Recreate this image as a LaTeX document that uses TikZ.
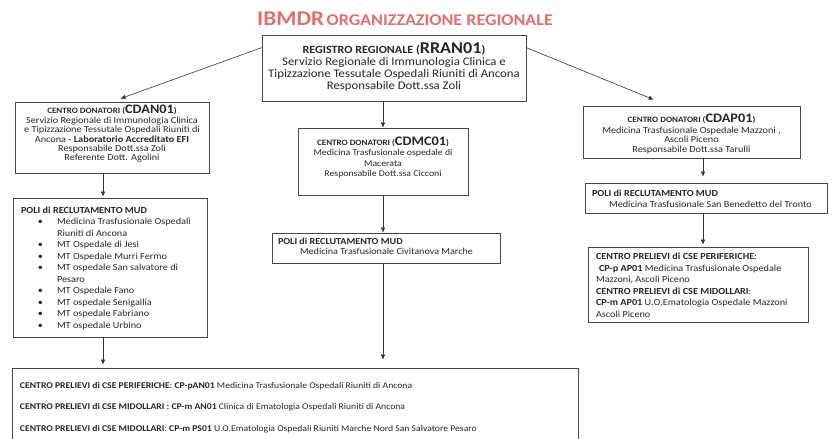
\documentclass[tikz,border=0pt]{standalone}
\usepackage{fontspec}
\setmainfont{Carlito}[FakeStretch=1.1]
\usetikzlibrary{arrows.meta}

\definecolor{titlered}{RGB}{226,110,110}
\definecolor{boxline}{RGB}{70,70,70}

\newcommand{\boxbody}[3]{\parbox[c][#2][t]{#1}{\lineskiplimit=-6pt #3}}
\newcommand{\hd}[1]{{\fontsize{8.2}{9}\selectfont\bfseries #1}}
\newcommand{\code}[1]{{\fontsize{13}{13}\selectfont\bfseries #1}}

\begin{document}
\begin{tikzpicture}[x=1pt,y=-1pt,
  orgbox/.style={draw=boxline, line width=0.7pt, inner sep=0pt, text=black!85},
  conn/.style={-{Latex[length=5pt,width=4.5pt]}, line width=0.6pt, draw=black!80}]
  \useasboundingbox (0,0) rectangle (833,439);
  \clip (0,0) rectangle (833,439);

  \coordinate (lcol) at (103,0);
  \coordinate (mcol) at (383,0);
  \coordinate (rcol) at (703,0);

  \node[text=titlered, font=\bfseries] (title) at (405,19)
    {{\fontsize{21}{21}\selectfont IBMDR} {\fontsize{16.4}{16}\selectfont ORGANIZZAZIONE REGIONALE}};

  \node[orgbox] (rran) at (394,68) {\boxbody{264pt}{66pt}{\centering\fontsize{11.6}{12.2}\selectfont\vspace*{7.5pt}%
    {\fontsize{11}{11}\selectfont\bfseries REGISTRO REGIONALE (}{\fontsize{16.5}{16}\selectfont\bfseries RRAN01}{\fontsize{11}{11}\selectfont\bfseries )}\\
    Servizio Regionale di Immunologia Clinica e\\
    Tipizzazione Tessutale Ospedali Riuniti di Ancona\\
    Responsabile Dott.ssa Zoli}};

  \node[orgbox] (cdan) at (112,137.5) {\boxbody{194pt}{71pt}{\centering\fontsize{9.3}{9.1}\selectfont\vspace*{3pt}%
    \hd{CENTRO DONATORI (}\code{CDAN01}\hd{)}\\[1.2pt]
    Servizio Regionale di Immunologia Clinica\\
    e Tipizzazione Tessutale Ospedali Riuniti di\\
    Ancona - \textbf{Laboratorio Accreditato EFI}\\
    Responsabile Dott.ssa Zoli\\
    Referente Dott. Agolini}};

  \node[orgbox] (polian) at (110,267.5) {\boxbody{194pt}{139pt}{\raggedright\leftskip=8pt\fontsize{9.3}{11.5}\selectfont\vspace*{8.5pt}%
    \textbf{POLI di RECLUTAMENTO MUD}
    \begin{list}{\textbullet}{\setlength{\leftmargin}{44pt}\setlength{\labelwidth}{10pt}\setlength{\labelsep}{14pt}%
      \setlength{\itemsep}{0pt}\setlength{\parsep}{0pt}\setlength{\topsep}{0pt}\setlength{\partopsep}{0pt}}
      \item Medicina Trasfusionale Ospedali\newline Riuniti di Ancona
      \item MT Ospedale di Jesi
      \item MT Ospedale Murri Fermo
      \item MT ospedale San salvatore di\newline Pesaro
      \item MT Ospedale Fano
      \item MT ospedale Senigallia
      \item MT ospedale Fabriano
      \item MT ospedale Urbino
    \end{list}}};

  \node[orgbox] (cdmc) at (383,161.5) {\boxbody{170pt}{67pt}{\centering\fontsize{8.9}{10.6}\selectfont\vspace*{8.5pt}%
    \hd{CENTRO DONATORI (}\code{CDMC01}\hd{)}\\
    Medicina Trasfusionale ospedale di\\
    Macerata\\
    Responsabile Dott.ssa Cicconi}};

  \node[orgbox] (polimc) at (386,248) {\boxbody{228pt}{30pt}{\raggedright\leftskip=6pt\fontsize{9.2}{9.2}\selectfont\vspace*{5.5pt}%
    \textbf{POLI di RECLUTAMENTO MUD}\\
    \hspace*{22pt}Medicina Trasfusionale Civitanova Marche}};

  \node[orgbox] (cdap) at (691.5,132) {\boxbody{217pt}{52pt}{\centering\fontsize{9.3}{9.6}\selectfont\vspace*{7.5pt}%
    \hd{CENTRO DONATORI (}\code{CDAP01}\hd{)}\\[1.5pt]
    Medicina Trasfusionale Ospedale Mazzoni ,\\
    Ascoli Piceno\\
    Responsabile Dott.ssa Tarulli}};

  \node[orgbox] (poliap) at (706,198) {\boxbody{242pt}{30pt}{\raggedright\leftskip=7pt\fontsize{9.3}{10.5}\selectfont\vspace*{7pt}%
    \textbf{POLI di RECLUTAMENTO MUD}\\
    \hspace*{17pt}Medicina Trasfusionale San Benedetto del Tronto}};

  \node[orgbox] (cpap) at (698,284.5) {\boxbody{220pt}{75pt}{\raggedright\leftskip=8pt\fontsize{9.3}{11.6}\selectfont\vspace*{6pt}%
    \textbf{CENTRO PRELIEVI di CSE PERIFERICHE}:\\
    \hspace*{3pt}\textbf{CP-p AP01} Medicina Trasfusionale Ospedale\\
    Mazzoni, Ascoli Piceno\\
    \textbf{CENTRO PRELIEVI di CSE MIDOLLARI}:\\
    \textbf{CP-m AP01} U.O.Ematologia Ospedale Mazzoni\\
    Ascoli Piceno}};

  \node[orgbox] (cpan) at (295,413) {\boxbody{566pt}{90pt}{\raggedright\leftskip=8pt\fontsize{8.8}{21.5}\selectfont\vspace*{14pt}%
    \textbf{CENTRO PRELIEVI di CSE PERIFERICHE}: \textbf{CP-pAN01} Medicina Trasfusionale Ospedali Riuniti di Ancona\\
    \textbf{CENTRO PRELIEVI di CSE MIDOLLARI :} \textbf{CP-m AN01} Clinica di Ematologia Ospedali Riuniti di Ancona\\
    \textbf{CENTRO PRELIEVI di CSE MIDOLLARI}: \textbf{CP-m PS01} U.O.Ematologia Ospedali Riuniti Marche Nord San Salvatore Pesaro}};

  \draw[conn, shorten >=9pt] ([yshift=-13pt]rran.north west) -- (cdan.north);
  \draw[conn, shorten >=16pt] ([yshift=-13pt]rran.north east) -- ([xshift=-23pt]cdap.north);
  \draw[conn] (rran.south -| mcol) -- (cdmc.north -| mcol);
  \draw[conn, shorten >=1pt] (cdan.south -| lcol) -- (polian.north -| lcol);
  \draw[conn, shorten >=3pt] (polian.south -| lcol) -- (cpan.north -| lcol);
  \draw[conn] (cdmc.south -| mcol) -- (polimc.north -| mcol);
  \draw[conn, shorten >=8pt] (polimc.south -| mcol) -- (cpan.north -| mcol);
  \draw[conn, shorten >=6pt] (cdap.south -| rcol) -- (poliap.north -| rcol);
  \draw[conn, shorten >=2pt] (poliap.south -| rcol) -- (cpap.north -| rcol);
\end{tikzpicture}
\end{document}
